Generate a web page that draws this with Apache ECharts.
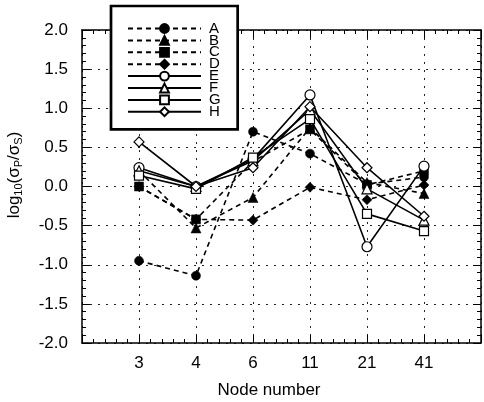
<!DOCTYPE html>
<html>
<head>
<meta charset="utf-8">
<script src="https://cdn.jsdelivr.net/npm/echarts@6/dist/echarts.min.js"></script>
<style>
  html, body { margin: 0; padding: 0; background: #fff; }
  #chart { width: 484px; height: 402px; }
</style>
</head>
<body>
<div id="chart"></div>
<script>
// Node counts along the x axis (placed at positions 1..6)
const categories = ['3', '4', '6', '11', '21', '41'];

// log10(sigma_P / sigma_S) for each case
const seriesA = [-0.95, -1.14, 0.70, 0.42, 0.03, 0.12];
const seriesB = [0.20, -0.53, -0.14, 0.75, 0.05, -0.09];
const seriesC = [0.00, -0.42, 0.32, 0.73, 0.02, 0.20];
const seriesD = [0.00, -0.42, -0.43, -0.01, -0.17, 0.02];
const seriesE = [0.24, 0.00, 0.35, 1.17, -0.77, 0.26];
const seriesF = [0.20, 0.00, 0.33, 0.98, -0.03, -0.43];
const seriesG = [0.14, -0.03, 0.37, 0.86, -0.35, -0.57];
const seriesH = [0.57, 0.00, 0.24, 1.02, 0.24, -0.38];

const yTicks = [-2.0, -1.5, -1.0, -0.5, 0.0, 0.5, 1.0, 1.5, 2.0];

const FONT = 'Liberation Sans, Arial, Helvetica, sans-serif';

function makeSeries(name, values, symbol, size, filled, dashed) {
  return {
    name: name,
    type: 'line',
    data: values.map((v, i) => [i + 1, v]),
    symbol: symbol,
    symbolSize: size,
    showAllSymbol: true,
    lineStyle: { color: '#000', width: 1.6, type: dashed ? [5, 4] : 'solid' },
    itemStyle: {
      color: filled ? '#000' : '#fff',
      borderColor: '#000',
      borderWidth: filled ? 0.5 : 1.2
    },
    emphasis: { disabled: true },
    animation: false
  };
}

const chart = echarts.init(document.getElementById('chart'), null, { renderer: 'canvas' });

const gridDash = { show: true, lineStyle: { color: '#222', width: 1, type: [2, 6] } };

const xBase = {
  type: 'value', min: 0, max: 7, interval: 1,
  axisLine: { show: true, onZero: false, lineStyle: { color: '#000', width: 1.5 } },
  axisTick: { show: true, inside: true, length: 8, lineStyle: { color: '#000' } },
  minorTick: { show: true, splitNumber: 5, length: 4, lineStyle: { color: '#000' } }
};
const yBase = {
  type: 'value', min: -2, max: 2, interval: 0.5,
  axisLine: { show: true, onZero: false, lineStyle: { color: '#000', width: 1.5 } },
  axisTick: { show: true, inside: true, length: 8, lineStyle: { color: '#000' } },
  minorTick: { show: true, splitNumber: 5, length: 4, lineStyle: { color: '#000' } }
};

chart.setOption({
  backgroundColor: '#fff',
  animation: false,
  grid: { left: 82, top: 30, width: 404, height: 313, containLabel: false },
  xAxis: [
    Object.assign({}, xBase, {
      position: 'bottom',
      axisLabel: {
        margin: 12, fontSize: 17, color: '#000', fontFamily: FONT,
        formatter: v => (v >= 1 && v <= categories.length) ? categories[v - 1] : ''
      },
      splitLine: gridDash
    }),
    Object.assign({}, xBase, {
      position: 'top',
      axisLabel: { show: false },
      splitLine: { show: false }
    })
  ],
  yAxis: [
    Object.assign({}, yBase, {
      position: 'left',
      axisLabel: {
        margin: 14, fontSize: 17, color: '#000', fontFamily: FONT,
        formatter: v => {
          const t = yTicks.find(k => Math.abs(k - v) < 1e-9);
          return (t === undefined ? v : t).toFixed(1);
        }
      },
      splitLine: gridDash
    }),
    Object.assign({}, yBase, {
      position: 'right',
      axisLabel: { show: false },
      splitLine: { show: false }
    })
  ],
  legend: {
    orient: 'vertical',
    left: 111, top: 6,
    padding: [15, 17, 10, 16],
    itemWidth: 73, itemHeight: 11, itemGap: -3.1,
    backgroundColor: '#fff',
    borderColor: '#000', borderWidth: 2.7,
    textStyle: { fontSize: 15, color: '#000', fontFamily: FONT, padding: [0, 0, 0, 3] },
    data: ['A', 'B', 'C', 'D', 'E', 'F', 'G', 'H'],
    selectedMode: false,
    z: 10
  },
  graphic: [
    {
      type: 'text', x: 14, y: 175, rotation: Math.PI / 2,
      style: {
        text: '{b|log}{s|10}{b|(σ}{s|P}{b|/σ}{s|S}{b|)}',
        align: 'center', verticalAlign: 'middle',
        fill: '#000',
        rich: {
          b: { fontSize: 17, lineHeight: 20, fontFamily: FONT, fill: '#000' },
          s: { fontSize: 11, lineHeight: 11, fontFamily: FONT, fill: '#000', verticalAlign: 'bottom' }
        }
      }
    },
    {
      type: 'text', x: 269, y: 390,
      style: {
        text: 'Node number', align: 'center', verticalAlign: 'middle',
        fontSize: 17, fontFamily: FONT, fill: '#000'
      }
    }
  ],
  series: [
    makeSeries('A', seriesA, 'circle', 9, true, true),
    makeSeries('B', seriesB, 'triangle', 10, true, true),
    makeSeries('C', seriesC, 'rect', 9, true, true),
    makeSeries('D', seriesD, 'diamond', 10, true, true),
    makeSeries('E', seriesE, 'circle', 10, false, false),
    makeSeries('F', seriesF, 'triangle', 10, false, false),
    makeSeries('G', seriesG, 'rect', 9, false, false),
    makeSeries('H', seriesH, 'diamond', 10, false, false)
  ]
});
</script>
</body>
</html>
